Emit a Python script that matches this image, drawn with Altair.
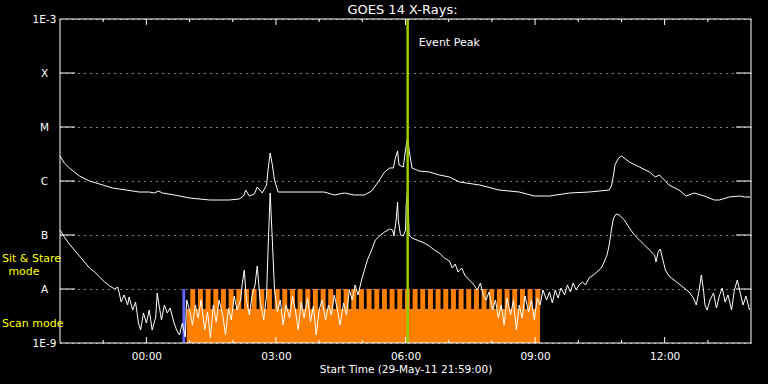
import altair as alt
import pandas as pd

# ---- data (time in minutes from 00:00, flux as log10 W/m^2) ----
up_t = [-120, -114, -107, -100, -93, -79, -65, -47, -28, -10, 4, 11, 17, 22, 39, 60, 88, 115, 129, 135,
        138, 143, 150, 154, 161, 167, 169, 172, 175, 178, 183, 213, 247, 261, 275, 289, 303, 313, 321, 331,
        338, 343, 346, 349, 351, 357, 360, 363, 365, 369, 379, 393, 407, 421, 435, 463, 490, 518, 539, 560,
        588, 615, 643, 646, 649, 651, 656, 660, 671, 685, 699, 707, 713, 717, 726, 740, 750, 761, 775, 789,
        796, 810, 824, 831, 839]
up_v = [-5.537, -5.667, -5.759, -5.833, -5.907, -6.000, -6.056, -6.130, -6.167, -6.204, -6.204, -6.222, -6.185,
        -6.222, -6.259, -6.315, -6.352, -6.352, -6.333, -6.278, -6.167, -6.278, -6.241, -6.111, -6.222, -6.074,
        -5.796, -5.481, -5.704, -5.981, -6.204, -6.204, -6.204, -6.259, -6.222, -6.259, -6.259, -6.185, -6.037,
        -5.833, -5.759, -5.759, -5.574, -5.444, -5.704, -5.741, -5.426, -5.185, -5.426, -5.759, -5.815, -5.833,
        -5.889, -5.926, -6.019, -6.074, -6.167, -6.204, -6.278, -6.278, -6.222, -6.204, -6.167, -6.093, -5.889,
        -5.704, -5.574, -5.537, -5.648, -5.741, -5.833, -5.926, -5.889, -5.944, -6.074, -6.167, -6.278, -6.222,
        -6.278, -6.352, -6.352, -6.296, -6.278, -6.296, -6.296]

lo_t = [-120, -114, -107, -100, -93, -86, -79, -72, -65, -58, -51, -44, -40, -38, -35, -31, -26, -24, -19, -15,
        -11, -8, -4, 0, 4, 8, 13, 15, 18, 21, 25, 29, 33, 38, 42, 46, 50, 54, 56, 60,
        64, 68, 72, 76, 81, 85, 89, 93, 97, 101, 106, 110, 114, 118, 122, 126, 131, 133, 136, 139,
        143, 147, 151, 154, 158, 163, 167, 169, 172, 175, 178, 182, 186, 190, 194, 199, 203, 207, 211, 215,
        219, 224, 228, 232, 236, 240, 244, 249, 253, 257, 261, 265, 269, 274, 278, 282, 286, 290, 294, 299,
        303, 307, 313, 318, 324, 331, 338, 342, 344, 347, 349, 350, 353, 357, 360, 361, 363, 364, 365, 369,
        376, 386, 393, 400, 407, 414, 421, 425, 429, 433, 438, 443, 449, 454, 460, 464, 468, 472, 476, 481,
        485, 489, 493, 497, 501, 506, 510, 514, 518, 522, 526, 531, 535, 539, 543, 547, 551, 556, 560, 564,
        568, 572, 576, 581, 585, 589, 593, 597, 601, 606, 610, 615, 621, 626, 632, 636, 640, 643, 646, 649,
        653, 657, 664, 671, 678, 685, 692, 699, 706, 708, 711, 714, 717, 721, 726, 733, 740, 747, 754, 760,
        764, 768, 771, 774, 776, 779, 783, 788, 792, 796, 800, 804, 808, 813, 817, 821, 825, 829, 833, 838]
lo_v = [-6.907, -7.037, -7.167, -7.278, -7.389, -7.500, -7.611, -7.685, -7.778, -7.870, -7.944, -8.000, -7.963,
        -8.056, -8.241, -8.111, -8.296, -8.148, -8.389, -8.241, -8.630, -8.759, -8.444, -8.630, -8.389, -8.759,
        -8.519, -8.074, -8.333, -8.574, -8.296, -8.444, -8.352, -8.611, -8.759, -8.852, -8.630, -8.889, -8.204,
        -8.389, -8.667, -8.296, -8.537, -8.204, -8.759, -8.426, -8.907, -8.296, -8.611, -8.204, -8.481, -8.852,
        -8.352, -8.574, -8.130, -8.389, -8.204, -7.926, -7.648, -8.204, -8.481, -8.111, -7.926, -7.574, -8.204,
        -8.574, -8.111, -7.278, -6.222, -7.093, -8.019, -8.426, -8.204, -8.667, -8.296, -8.537, -8.130, -8.389,
        -8.759, -8.241, -8.537, -8.167, -8.611, -8.315, -8.852, -8.389, -8.204, -8.574, -8.296, -8.481, -8.111,
        -8.352, -8.667, -8.259, -8.481, -8.019, -8.204, -7.926, -8.111, -7.833, -7.648, -7.463, -7.278, -7.093,
        -7.019, -6.944, -6.889, -6.907, -7.019, -6.722, -6.389, -6.722, -7.000, -7.019, -6.907, -6.444, -6.130,
        -6.537, -7.000, -7.056, -7.093, -7.148, -7.204, -7.278, -7.333, -7.426, -7.481, -7.611, -7.537, -7.685,
        -7.611, -7.759, -7.833, -7.907, -8.019, -7.889, -8.111, -8.204, -8.056, -8.389, -8.204, -8.537, -8.296,
        -8.667, -8.167, -8.481, -8.204, -8.759, -8.296, -8.537, -8.130, -8.426, -8.204, -8.574, -8.167, -8.296,
        -8.019, -8.204, -8.056, -8.259, -8.019, -8.167, -7.981, -8.111, -7.926, -8.056, -7.889, -8.019, -7.926,
        -7.870, -7.926, -7.796, -7.741, -7.685, -7.611, -7.500, -7.370, -7.185, -6.907, -6.685, -6.611, -6.630,
        -6.722, -6.870, -7.000, -7.093, -7.185, -7.278, -7.370, -7.500, -7.315, -7.259, -7.426, -7.648, -7.759,
        -7.833, -7.907, -7.981, -8.056, -8.167, -8.296, -8.019, -7.741, -8.019, -8.296, -8.389, -8.204, -8.074,
        -8.352, -8.130, -7.981, -8.241, -8.111, -8.389, -8.019, -7.833, -8.074, -8.296, -8.130, -8.389]

# observing modes
stripe_start = [61, 71.7, 82.3, 93, 103.6, 114.3, 124.9, 135.6, 146.2, 156.9, 167.5, 178.2, 188.8, 199.5,
                210.1, 220.8, 231.4, 242.1, 252.7, 263.4, 274, 284.7, 295.3, 306, 316.6, 327.3, 337.9, 348.6,
                359.2, 369.9, 380.5, 391.2, 401.8, 412.5, 423.1, 433.8, 444.4, 455.1, 465.7, 476.4, 487, 497.7,
                508.3, 519, 529.6, 540.3]
stripe_len = 6.9
scan_span = [56, 547]
scan_level = [-9.0, -8.37]
stare_level = [-8.37, -8.0]
blue_span = [50, 54]
event_t = 363

x_domain = [-120, 840]
y_domain = [-9, -3]
x_major = [0, 180, 360, 540, 720]
x_minor = [-60, 60, 120, 240, 300, 420, 480, 600, 660, 780]
y_levels = [-9, -8, -7, -6, -5, -4, -3]
y_labels = ['1E-9', 'A', 'B', 'C', 'M', 'X', '1E-3']
y_tick_levels = [-8, -7, -6, -5, -4]
title_text = "GOES 14 X-Rays:"

FONT = "DejaVu Sans"
W, H = 691, 324

label_expr = "''"
for lv, lb in zip(y_levels, y_labels):
    label_expr = f"datum.value == {lv} ? '{lb}' : ({label_expr})"

xs = alt.Scale(domain=x_domain, nice=False, zero=False)
ys = alt.Scale(domain=y_domain, nice=False, zero=False)
xaxis = alt.Axis(values=x_major, labelExpr="(datum.value < 600 ? '0' : '') + floor(datum.value/60) + ':00'",
                 title="Start Time (29-May-11 21:59:00)", tickSize=0, domain=False, grid=False,
                 labelColor="white", titleColor="white", labelFont=FONT, titleFont=FONT,
                 labelFontSize=10.5, titleFontSize=10.5, titleFontWeight="normal",
                 labelPadding=8, titlePadding=3)
yaxis = alt.Axis(values=y_levels, labelExpr=label_expr, title=None, tickSize=0, domain=False,
                 grid=True, gridColor="white", gridDash=[1, 5], gridWidth=1, gridOpacity=1,
                 labelColor="white", labelFont=FONT, labelFontSize=10.5, labelAlign="center",
                 labelBaseline="middle", labelPadding=16)


def X(f):
    return alt.X(f, type="quantitative", scale=xs, axis=xaxis)


def X2(f):
    return alt.X2(f)


def Y(f):
    return alt.Y(f, type="quantitative", scale=ys, axis=yaxis)


up_df = pd.DataFrame({"t": up_t, "v": up_v})
lo_df = pd.DataFrame({"t": lo_t, "v": lo_v})
scan_df = pd.DataFrame({"t": [scan_span[0]], "t2": [scan_span[1]], "v": [scan_level[0]], "v2": [scan_level[1]]})
stripe_df = pd.DataFrame({"t": stripe_start, "t2": [s + stripe_len for s in stripe_start],
                          "v": [stare_level[0]] * len(stripe_start), "v2": [stare_level[1]] * len(stripe_start)})
blue_df = pd.DataFrame({"t": [blue_span[0]], "t2": [blue_span[1]], "v": [-9.0], "v2": [-8.0]})
event_df = pd.DataFrame({"t": [event_t]})
frame_df = pd.DataFrame({"t": [x_domain[0]], "t2": [x_domain[1]], "v": [y_domain[0]], "v2": [y_domain[1]]})
xmaj_df = pd.DataFrame({"t": x_major})
xmin_df = pd.DataFrame({"t": x_minor})
ytick_df = pd.DataFrame({"v": y_tick_levels})
side_df = pd.DataFrame({"v": [-7.444, -7.685, -8.648], "txt": ["Sit & Stare", "mode", "Scan mode"]})
title_df = pd.DataFrame({"txt": [title_text]})

scan = alt.Chart(scan_df).mark_rect(color="#ff8000").encode(x=X("t"), x2=X2("t2"), y=Y("v"), y2=alt.Y2("v2"))
stripes = alt.Chart(stripe_df).mark_rect(color="#ff8000").encode(x=X("t"), x2=X2("t2"), y=Y("v"), y2=alt.Y2("v2"))
blue = alt.Chart(blue_df).mark_rect(color="#6464ff").encode(x=X("t"), x2=X2("t2"), y=Y("v"), y2=alt.Y2("v2"))
up_line = alt.Chart(up_df).mark_line(color="white", strokeWidth=1).encode(x=X("t"), y=Y("v"))
lo_line = alt.Chart(lo_df).mark_line(color="white", strokeWidth=1).encode(x=X("t"), y=Y("v"))
event = alt.Chart(event_df).mark_rule(color="#9acd00", strokeWidth=2.5).encode(x=X("t"))
event_txt = alt.Chart(event_df).mark_text(text="Event Peak", color="white", font=FONT, fontSize=11,
                                          align="left", baseline="middle", dx=11).encode(x=X("t"), y=alt.value(24))

tk = dict(color="white", strokeWidth=1)
top_maj = alt.Chart(xmaj_df).mark_rule(**tk).encode(x=X("t"), y=alt.value(0), y2=alt.value(6))
top_min = alt.Chart(xmin_df).mark_rule(**tk).encode(x=X("t"), y=alt.value(0), y2=alt.value(3))
bot_maj = alt.Chart(xmaj_df).mark_rule(**tk).encode(x=X("t"), y=alt.value(H - 6), y2=alt.value(H))
bot_min = alt.Chart(xmin_df).mark_rule(**tk).encode(x=X("t"), y=alt.value(H - 3), y2=alt.value(H))
left_tk = alt.Chart(ytick_df).mark_rule(**tk).encode(y=Y("v"), x=alt.value(0), x2=alt.value(15))
right_tk = alt.Chart(ytick_df).mark_rule(**tk).encode(y=Y("v"), x=alt.value(W - 15), x2=alt.value(W))
frame = alt.Chart(frame_df).mark_rect(fillOpacity=0, stroke="white", strokeWidth=1).encode(
    x=X("t"), x2=X2("t2"), y=Y("v"), y2=alt.Y2("v2"))

side1 = alt.Chart(side_df.iloc[[0]]).mark_text(color="yellow", font=FONT, fontSize=11, align="left",
                                               baseline="middle").encode(y=Y("v"), x=alt.value(-58), text="txt:N")
side2 = alt.Chart(side_df.iloc[[1]]).mark_text(color="yellow", font=FONT, fontSize=11, align="center",
                                               baseline="middle").encode(y=Y("v"), x=alt.value(-36), text="txt:N")
side3 = alt.Chart(side_df.iloc[[2]]).mark_text(color="yellow", font=FONT, fontSize=11, align="left",
                                               baseline="middle").encode(y=Y("v"), x=alt.value(-58), text="txt:N")
title = alt.Chart(title_df).mark_text(color="white", font=FONT, fontSize=13, align="center",
                                      baseline="alphabetic").encode(x=alt.value(W / 2 - 3), y=alt.value(-5),
                                                                    text="txt:N")

chart = alt.layer(
    scan, stripes, blue, lo_line, up_line, event, event_txt,
    top_maj, top_min, bot_maj, bot_min, left_tk, right_tk, frame, side1, side2, side3, title
).properties(
    width=W, height=H,
    padding={"left": 60, "top": 19, "right": 17, "bottom": 41},
    autosize=alt.AutoSizeParams(type="none"),
).configure(background="black").configure_view(stroke=None)

chart.save("out.html", embed_options={"renderer": "svg", "actions": False})
